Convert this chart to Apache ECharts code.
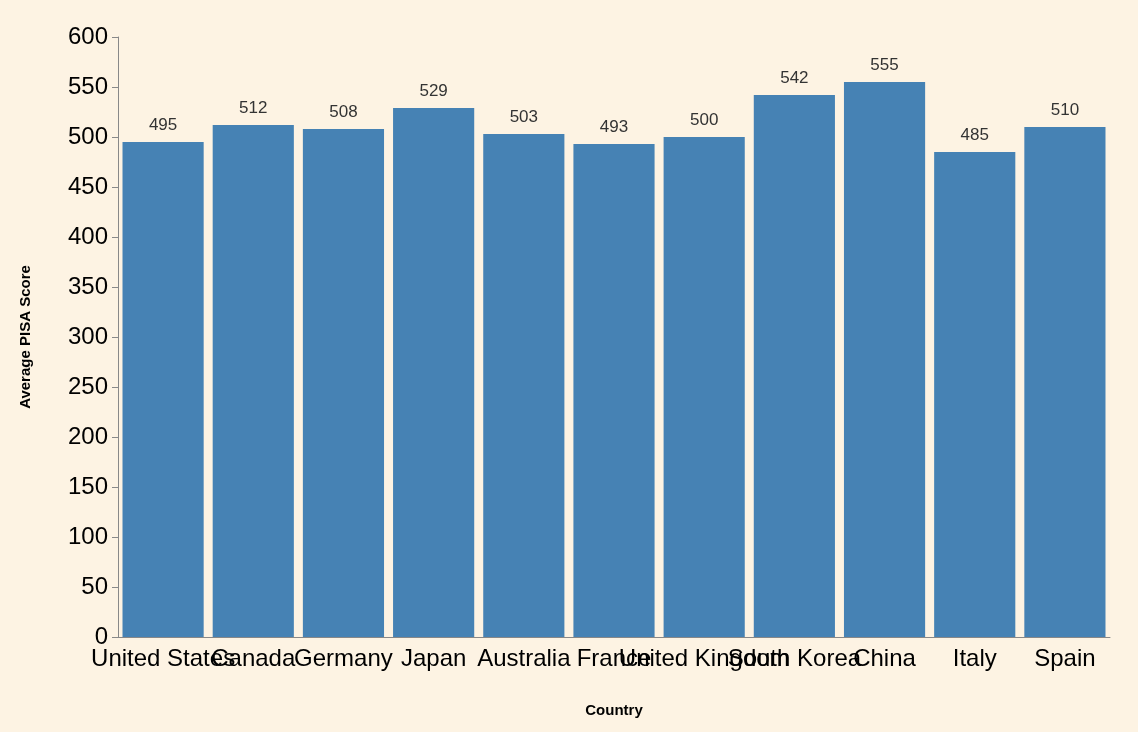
<!DOCTYPE html>
<html>
<head>
<meta charset="utf-8">
<script src="https://cdn.jsdelivr.net/npm/echarts@6/dist/echarts.min.js"></script>
<style>
  html, body { margin: 0; padding: 0; background: #fdf3e3; }
  #main { width: 1138px; height: 732px; }
</style>
</head>
<body>
<div id="main"></div>
<script>
// 数据
const countries = ['United States', 'Canada', 'Germany', 'Japan', 'Australia', 'France',
  'United Kingdom', 'South Korea', 'China', 'Italy', 'Spain'];
const scores = [495, 512, 508, 529, 503, 493, 500, 542, 555, 485, 510];
const yTicks = { min: 0, max: 600, interval: 50 };

const myChart = echarts.init(document.getElementById('main'));
const font = 'Liberation Sans, Arial, Helvetica, sans-serif';
myChart.setOption({
  backgroundColor: '#fdf3e3',
  textStyle: { fontFamily: font },
  grid: { left: 118, right: 28, top: 37, bottom: 95, containLabel: false },
  xAxis: {
    type: 'category',
    data: countries,
    name: 'Country',
    nameLocation: 'middle',
    nameGap: 66,
    nameTextStyle: { fontSize: 15, fontWeight: 'bold', color: '#000', fontFamily: font },
    axisLine: { lineStyle: { color: '#888' } },
    axisTick: { alignWithLabel: true, length: 6, lineStyle: { color: '#888' } },
    axisLabel: { fontSize: 24, color: '#000', interval: 0, margin: 10, fontFamily: font },
  },
  yAxis: {
    type: 'value',
    min: yTicks.min,
    max: yTicks.max,
    interval: yTicks.interval,
    name: 'Average PISA Score',
    nameLocation: 'middle',
    nameGap: 85,
    nameTextStyle: { fontSize: 15, fontWeight: 'bold', color: '#000', fontFamily: font },
    axisLine: { show: true, lineStyle: { color: '#888' } },
    axisTick: { show: true, length: 6, lineStyle: { color: '#888' } },
    axisLabel: { fontSize: 24, color: '#000', margin: 10, fontFamily: font },
    splitLine: { show: false },
  },
  series: [
    {
      type: 'bar',
      data: scores,
      barCategoryGap: '10%',
      itemStyle: { color: '#4682b4' },
      label: {
        show: true,
        position: 'top',
        distance: 8,
        fontSize: 17,
        color: '#333',
        fontFamily: font,
      },
    },
  ],
});
</script>
</body>
</html>
